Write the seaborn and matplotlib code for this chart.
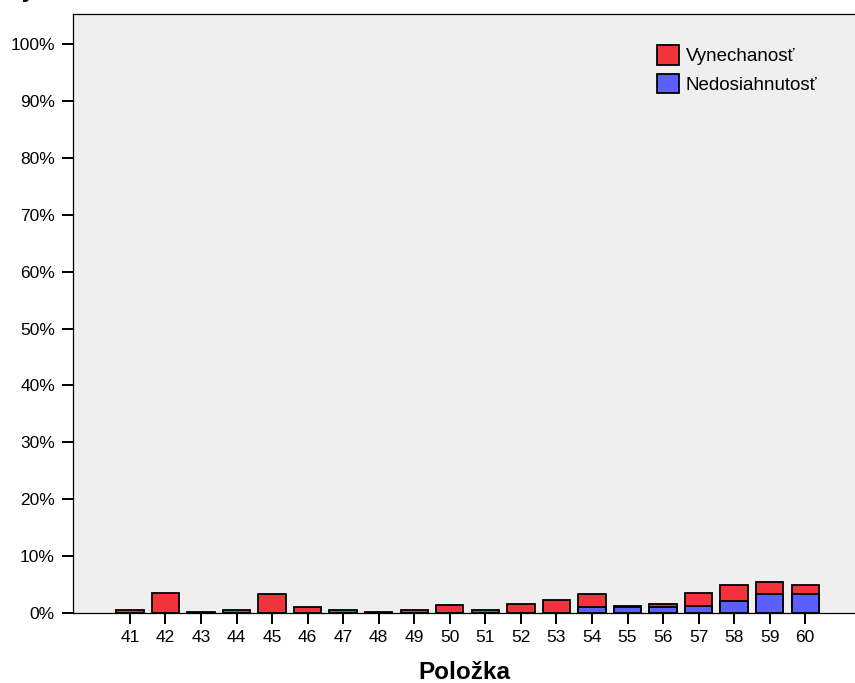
import matplotlib
matplotlib.use("Agg")
import matplotlib.pyplot as plt
import matplotlib.patches as mpatches
import numpy as np
import pandas as pd
import seaborn as sns

# data (percent of respondents)
items = [str(i) for i in range(41, 61)]
vynechanost = [0.6, 3.6, 0.1, 0.6, 3.4, 1.1, 0.6, 0.1, 0.6, 1.45,
               0.55, 1.65, 2.2, 2.35, 0.25, 0.55, 2.3, 2.9, 2.15, 1.7]
nedosiahnutost = [0, 0, 0, 0, 0, 0, 0, 0, 0, 0,
                  0, 0, 0, 1.0, 1.05, 1.1, 1.3, 2.1, 3.35, 3.3]

RED = "#F2333B"
BLUE = "#5B5FFF"

df = pd.DataFrame({"item": items, "vyn": vynechanost, "ned": nedosiahnutost})
df["total"] = df["vyn"] + df["ned"]

sns.set_style("white")
plt.rcParams["font.family"] = ["Liberation Sans", "DejaVu Sans"]
plt.rcParams["text.color"] = "black"
plt.rcParams["xtick.color"] = "black"
plt.rcParams["ytick.color"] = "black"
plt.rcParams["axes.labelcolor"] = "black"

fig = plt.figure(figsize=(8.55, 6.83), dpi=100)
ax = fig.add_axes([73 / 855, 1 - 613 / 683, 1 - 73 / 855, 599 / 683])
ax.set_facecolor("#EFEFEF")

# stacked: red total first, blue part drawn over it
sns.barplot(data=df, x="item", y="total", color=RED, saturation=1, width=0.77,
            edgecolor="black", linewidth=1.3, ax=ax)
sns.barplot(data=df, x="item", y="ned", color=BLUE, saturation=1, width=0.77,
            edgecolor="black", linewidth=1.3, ax=ax)

ax.set_xlim(-1.6, 20.4)
ax.set_ylim(0, 105.3)
ax.set_yticks(np.arange(0, 101, 10))
ax.set_yticklabels([f"{v}%" for v in range(0, 101, 10)], fontsize=12.5)
ax.tick_params(axis="x", labelsize=12.5, length=8, width=1.4, direction="out",
               bottom=True, pad=4)
ax.tick_params(axis="y", length=8, width=1.4, direction="out", left=True, pad=5)
for side in ["left", "top", "bottom"]:
    ax.spines[side].set_visible(True)
    ax.spines[side].set_linewidth(0.9)
    ax.spines[side].set_color("black")
ax.spines["right"].set_visible(False)

ax.set_ylabel("")
ax.set_xlabel("Položka", fontsize=17.5, fontweight="bold", labelpad=12)

handles = [mpatches.Patch(facecolor=RED, edgecolor="black", linewidth=1.3, label="Vynechanosť"),
           mpatches.Patch(facecolor=BLUE, edgecolor="black", linewidth=1.3, label="Nedosiahnutosť")]
ax.legend(handles=handles, loc="upper left", bbox_to_anchor=(0.737, 0.96),
          frameon=False, fontsize=13.5, handlelength=1.2, handleheight=1.2,
          handletextpad=0.35, labelspacing=0.45, borderaxespad=0)

# partially visible title at the very top
fig.text(0.008, 1.014, "Py", fontsize=17, fontweight="bold", va="center", ha="left")

fig.savefig("out.png", dpi=100)
